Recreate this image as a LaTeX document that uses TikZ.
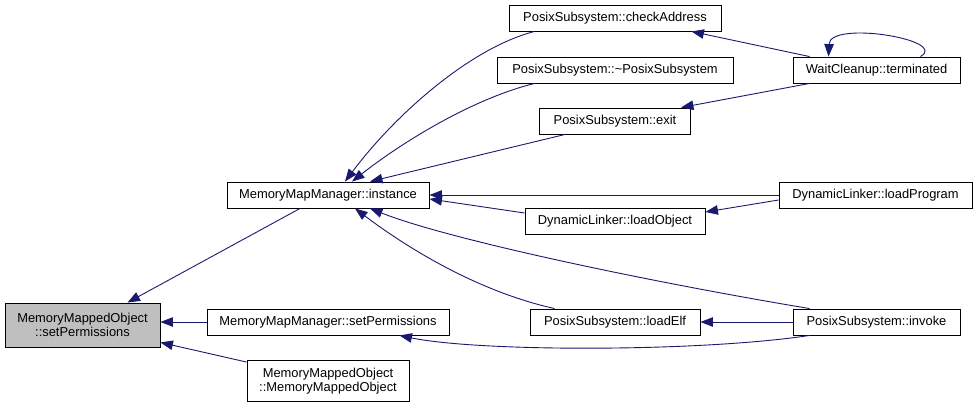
\documentclass[tikz,border=0pt]{standalone}
\usepackage{fontspec}
\setmainfont{Liberation Sans}
\usetikzlibrary{positioning, arrows.meta, calc}
\definecolor{dxedge}{HTML}{191970}
\definecolor{dxgray}{HTML}{BFBFBF}

\begin{document}
\begin{tikzpicture}[x=1pt, y=1pt,
        fnbox/.style={draw=black, fill=white, line width=0.9pt, inner sep=0pt,
              font=\fontsize{12.9}{14.5}\selectfont, minimum height=26pt, align=center},
        calls/.style={draw=dxedge, line width=0.9pt, -{Triangle[length=12.5pt, width=9.5pt]}}]
        \useasboundingbox (0,0) rectangle (977,-407);
        % left column
        \node[fnbox, fill=dxgray, minimum width=155pt, minimum height=44pt] (setperm) at (82.5,-325)
              {MemoryMappedObject\\::setPermissions};
        \node[fnbox, minimum width=202pt] (instance) at (328,-195) {MemoryMapManager::instance};
        \node[fnbox, minimum width=242pt] (mgrperm) at (328,-322) {MemoryMapManager::setPermissions};
        \node[fnbox, minimum width=162pt, minimum height=41pt] (ctor) at (328,-381)
              {MemoryMappedObject\\::MemoryMappedObject};
        % middle column
        \node[fnbox, minimum width=212pt] (check) at (615,-18) {PosixSubsystem::checkAddress};
        \node[fnbox, minimum width=236pt] (dtor) at (615,-70) {PosixSubsystem::\textasciitilde PosixSubsystem};
        \node[fnbox, minimum width=151pt] (exit) at (615,-121) {PosixSubsystem::exit};
        \node[fnbox, minimum width=180pt] (loadobj) at (615,-221) {DynamicLinker::loadObject};
        \node[fnbox, minimum width=170pt] (loadelf) at (615,-322) {PosixSubsystem::loadElf};
        % right column
        \node[fnbox, minimum width=167pt] (term) at (876.5,-70) {WaitCleanup::terminated};
        \node[fnbox, minimum width=193pt] (loadprog) at (875.5,-195) {DynamicLinker::loadProgram};
        \node[fnbox, minimum width=167pt] (invoke) at (876.5,-322) {PosixSubsystem::invoke};

        % callers of setPermissions
        \draw[calls] ([xshift=-28pt]instance.south) -- ([xshift=45pt]setperm.north);
        \draw[calls] (mgrperm.west) -- (mgrperm.west -| setperm.east);
        \draw[calls] ([yshift=-2pt]ctor.north west) -- ([yshift=5pt]setperm.south east);
        % callers of instance
        \draw[calls] ([xshift=26pt]check.south west) .. controls (470,-48) and (395,-115) .. ([xshift=17pt]instance.north);
        \draw[calls] ([xshift=38pt]dtor.south west) .. controls (475,-98) and (405,-140) .. ([xshift=24pt]instance.north);
        \draw[calls] ([xshift=26pt]exit.south west) -- ([xshift=42pt]instance.north);
        \draw[calls] (loadprog.west) -- (loadprog.west -| instance.east);
        \draw[calls] ([yshift=8pt]loadobj.west) -- ([yshift=-4pt]instance.east);
        \draw[calls] ([xshift=25pt]loadelf.north west) .. controls (480,-292) and (410,-250) .. ([xshift=27pt]instance.south);
        \draw[calls] ([xshift=17pt]invoke.north west) .. controls (650,-282) and (450,-240) .. ([xshift=42pt]instance.south);
        % other calls
        \draw[calls] ([xshift=17pt]term.north west) -- ([xshift=-30pt]check.south east);
        \draw[calls] ([xshift=17pt]term.south west) -- ([xshift=-10pt]exit.north east);
        \draw[calls] ([xshift=-40pt]term.north east) .. controls (950,-40) and (830,-20) .. ([xshift=36pt]term.north west);
        \draw[calls] ([yshift=-5pt]loadprog.west) -- ([yshift=9pt]loadobj.east);
        \draw[calls] (invoke.west) -- (invoke.west -| loadelf.east);
        \draw[calls] ([xshift=17pt]invoke.south west) .. controls (700,-352) and (480,-352) .. ([xshift=-50pt]mgrperm.south east);
      \end{tikzpicture}
\end{document}
